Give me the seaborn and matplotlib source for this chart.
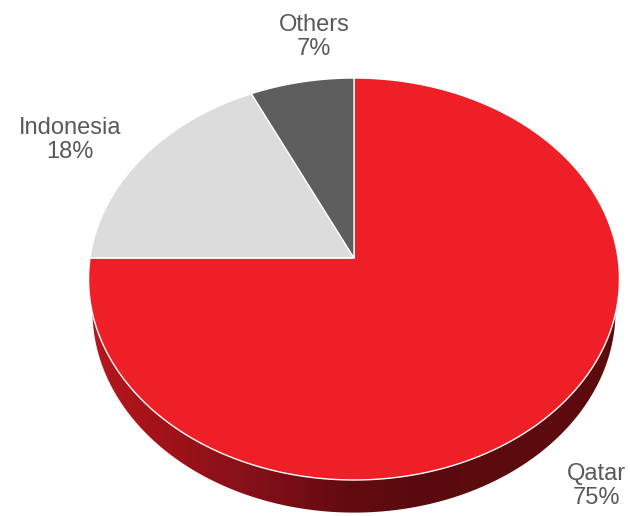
import numpy as np
import matplotlib
matplotlib.use("Agg")
import matplotlib.pyplot as plt
from matplotlib.colors import LinearSegmentedColormap
from matplotlib.patches import Polygon
import seaborn as sns

# LNG import sources, share of volume (%)
categories = ["Qatar", "Indonesia", "Others"]
shares = [75, 18, 7]
slice_colors = ["#EF1F28", "#DCDCDC", "#5E5E5E"]

sns.set_theme(style="white")
plt.rcParams["font.family"] = ["Liberation Sans", "DejaVu Sans"]

fig = plt.figure(figsize=(6.3, 5.16), dpi=100)
ax = fig.add_axes([0, 0, 1, 1])
ax.set_xlim(0, 630)
ax.set_ylim(516, 0)
ax.axis("off")

# Tilted disc seen in perspective: unit disc (u, v), v pointing away
CX, CY = 354.0, 258.0     # projected centre of the top face
A, B, K = 264.0, 198.8, 0.1045
DEPTH = 33.0              # thickness of the disc
SHRINK = 0.015            # extra distance of the bottom face from the eye


def project(u, v, bottom=False):
    w = 1.0 + K * v + (SHRINK if bottom else 0.0)
    drop = DEPTH if bottom else 0.0
    return CX + A * u / w, CY - B * v / w + drop / w


# slice angles: start at 12 o'clock, run clockwise
fracs = np.asarray(shares, dtype=float) / np.sum(shares)
bounds = 90.0 - 360.0 * np.concatenate([[0.0], np.cumsum(fracs)])

# side wall of the front half (only Qatar faces the viewer)
a = np.radians(np.linspace(-180.0, 0.0, 400))
xt, yt = project(np.cos(a), np.sin(a))
xb, yb = project(np.cos(a), np.sin(a), bottom=True)
wall = Polygon(np.column_stack([np.concatenate([xt, xb[::-1]]),
                                np.concatenate([yt, yb[::-1]])]),
               closed=True, fc="none", ec="none")
ax.add_patch(wall)
side_cmap = LinearSegmentedColormap.from_list(
    "side", [(0.0, "#B8171F"), (0.12, "#A51319"), (0.3, "#86101A"),
             (0.48, "#640B10"), (0.6, "#5A0A0E"), (1.0, "#5E0B0F")])
grad = np.linspace(0, 1, 512)[None, :]
img = ax.imshow(grad, cmap=side_cmap, aspect="auto",
                extent=(CX - A - 5, CX + A + 5, 516, 250), zorder=1,
                interpolation="bilinear")
img.set_clip_path(wall)
ax.set_xlim(0, 630)
ax.set_ylim(516, 0)

# top faces of the slices
for i, (cat, col) in enumerate(zip(categories, slice_colors)):
    a = np.radians(np.linspace(bounds[i], bounds[i + 1], 300))
    u = np.concatenate([[0.0], np.cos(a), [0.0]])
    v = np.concatenate([[0.0], np.sin(a), [0.0]])
    x, y = project(u, v)
    ax.fill(x, y, color=col, ec="white", lw=1.0, zorder=3, joinstyle="round")

# category labels
label_pos = {"Others": (314, 37), "Indonesia": (70, 140), "Qatar": (596, 486)}
for cat, val in zip(categories, shares):
    lx, ly = label_pos[cat]
    ax.text(lx, ly, f"{cat}\n{val}%", ha="center", va="center",
            fontsize=17, color="#595959", linespacing=1.15, zorder=5)

fig.savefig("out.png", dpi=100)
